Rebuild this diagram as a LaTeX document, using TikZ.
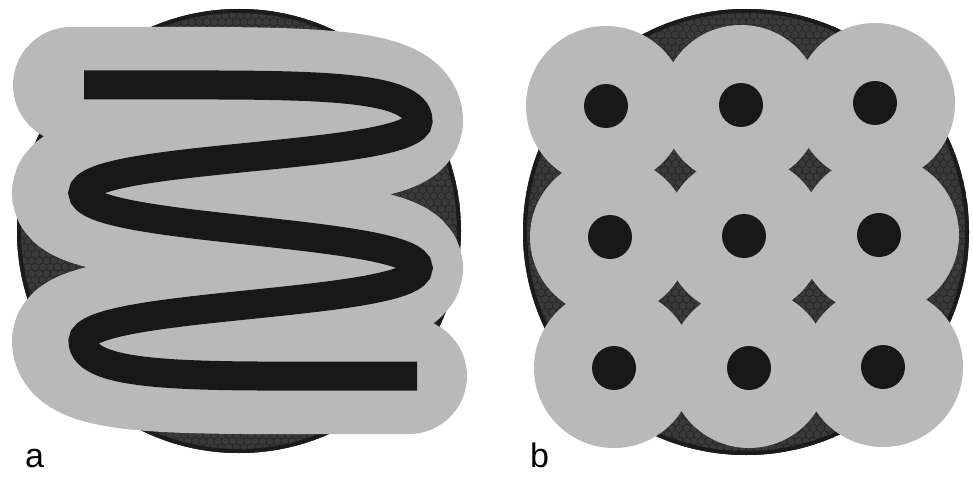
\documentclass[tikz,border=0pt]{standalone}
\usepackage{fontspec}
\setmainfont{Liberation Sans}
\definecolor{ringc}{HTML}{1B1B1B}
\definecolor{hexface}{HTML}{3A3A3A}
\definecolor{hexline}{HTML}{262626}
\definecolor{graya}{HTML}{B9B9B9}
\definecolor{blk}{HTML}{181818}
\newcommand\hexdisc[3]{%
  \begin{scope}
    \clip (#1,#2) circle (#3);
    \fill[hexline] (#1,#2) circle (#3);
    \foreach \j in {0,...,70} {
      \pgfmathsetmacro\yy{#2-#3+\j*6.45}
      \pgfmathsetmacro\off{#1-#3-4+mod(\j,2)*3.725}
      \fill[hexface] \foreach \i in {0,...,61} {
        ({\off+\i*7.45},\yy) +(90:3.7) -- +(30:3.7) -- +(-30:3.7) -- +(-90:3.7) -- +(-150:3.7) -- +(150:3.7) -- cycle };
    }
  \end{scope}
  \draw[ringc, line width=4] (#1,#2) circle (#3-2);
}
\tikzset{
  band/.style={graya, line width=116, line cap=round, line join=round},
  wire/.style={blk, line width=29, line cap=butt},
  pad/.style={fill=graya, draw=none},
  dot/.style={fill=blk, draw=none},
  lab/.style={font=\fontsize{34}{38}\selectfont, anchor=base west, inner sep=0pt, text=black}
}
\begin{document}
\begin{tikzpicture}[x=1pt,y=-1pt]
\useasboundingbox (0,0) rectangle (973,476);
\fill[white] (0,0) rectangle (973,476);

% ---------- panel a ----------
\hexdisc{239}{231}{222}
\begin{scope}[xshift=-13pt]
\draw[band] (84,85) -- (140,85) .. controls (300,85) and (418,82.5) .. (418,121)
  .. controls (418,159.5) and (83,154.5) .. (83,193)
  .. controls (83,231.5) and (418,229.5) .. (418,268)
  .. controls (418,306.5) and (83,302.5) .. (83,341)
  .. controls (83,379.5) and (201,376) .. (361,376) -- (422,376);
\end{scope}
\draw[wire] (84,85) -- (140,85) .. controls (300,85) and (418,82.5) .. (418,121)
  .. controls (418,159.5) and (83,154.5) .. (83,193)
  .. controls (83,231.5) and (418,229.5) .. (418,268)
  .. controls (418,306.5) and (83,302.5) .. (83,341)
  .. controls (83,379.5) and (201,376) .. (361,376) -- (417,376);
\node[lab] (la) at (25,467) {a};

% ---------- panel b ----------
\hexdisc{746}{232}{223}
\foreach \cx/\cy [count=\k] in {606/106,741/105,875/103,610/237,744/236,879/235,614/368,749/368,883/367} {
  \fill[pad] (\cx,\cy) circle (80);
}
\foreach \cx/\cy [count=\k] in {606/106,741/105,875/103,610/237,744/236,879/235,614/368,749/368,883/367} {
  \fill[dot] (\cx,\cy) circle (22);
}
\node[lab] (lb) at (530,467) {b};
\end{tikzpicture}
\end{document}
